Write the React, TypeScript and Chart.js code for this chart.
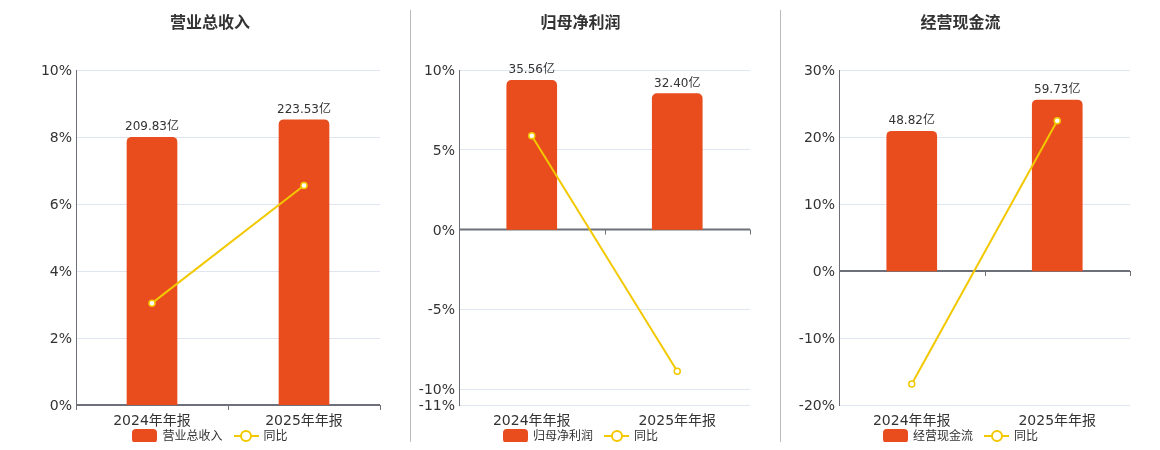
import React, { useEffect, useRef } from 'react';
import { Chart, registerables } from 'chart.js';

Chart.register(...registerables);

const FONT = '"DejaVu Sans", "Noto Sans CJK SC", sans-serif';
const BAR_COLOR = '#e94c1d';
const LINE_COLOR = '#f2c800';

// datos
const categories = ['2024年年报', '2025年年报'];
const revenueValues = [209.83, 223.53];
const revenueYoy = [3.04, 6.55];
const profitValues = [35.56, 32.4];
const profitYoy = [5.88, -8.88];
const cashValues = [48.82, 59.73];
const cashYoy = [-16.86, 22.41];
const revenueTicks = [0, 2, 4, 6, 8, 10];
const profitTicks = [-11, -10, -5, 0, 5, 10];
const cashTicks = [-20, -10, 0, 10, 20, 30];

interface PanelProps {
  left: number;
  width: number;
  title: string;
  bars: number[];
  yoy: number[];
  ticks: number[];
  barMin: number;
  barMax: number;
  axisWidth: number;
  padRight: number;
  separator?: boolean;
}

// eje en cero con marcas entre categorias
const zeroAxis = {
  id: 'zeroAxis',
  beforeDatasetsDraw(chart: any) {
    const { ctx, chartArea, scales } = chart;
    const y0 = scales.y.getPixelForValue(0);
    const n = chart.data.labels.length;
    ctx.save();
    ctx.strokeStyle = '#6e7079';
    ctx.lineWidth = 2;
    ctx.beginPath();
    ctx.moveTo(chartArea.left, y0);
    ctx.lineTo(chartArea.right, y0);
    ctx.stroke();
    ctx.lineWidth = 1;
    for (let i = 0; i <= n; i++) {
      const x = Math.round(chartArea.left + ((chartArea.right - chartArea.left) * i) / n) + 0.5;
      ctx.beginPath();
      ctx.moveTo(x, y0);
      ctx.lineTo(x, y0 + 5);
      ctx.stroke();
    }
    ctx.restore();
  },
};

// etiquetas encima de las barras
const barLabels = {
  id: 'barLabels',
  afterDatasetsDraw(chart: any) {
    const { ctx } = chart;
    const meta = chart.getDatasetMeta(0);
    const values = chart.data.datasets[0].data;
    ctx.save();
    ctx.font = `12px ${FONT}`;
    ctx.fillStyle = '#333';
    ctx.textAlign = 'center';
    ctx.textBaseline = 'bottom';
    meta.data.forEach((el: any, i: number) => {
      ctx.fillText(`${values[i].toFixed(2)}亿`, el.x, el.y - 4);
    });
    ctx.restore();
  },
};

const Panel: React.FC<PanelProps> = ({
  left, width, title, bars, yoy, ticks, barMin, barMax, axisWidth, padRight, separator,
}) => {
  const chartRef = useRef<HTMLCanvasElement>(null);
  const chartInstance = useRef<Chart | null>(null);

  useEffect(() => {
    if (!chartRef.current) return;
    if (chartInstance.current) chartInstance.current.destroy();

    chartInstance.current = new Chart(chartRef.current, {
      type: 'bar',
      data: {
        labels: categories,
        datasets: [
          {
            type: 'bar',
            label: title,
            data: bars,
            yAxisID: 'y2',
            backgroundColor: BAR_COLOR,
            barThickness: 50,
            borderRadius: { topLeft: 5, topRight: 5, bottomLeft: 0, bottomRight: 0 },
            borderSkipped: false,
            order: 1,
          },
          {
            type: 'line',
            label: '同比',
            data: yoy,
            yAxisID: 'y',
            borderColor: LINE_COLOR,
            borderWidth: 2,
            pointRadius: 3,
            pointBorderWidth: 1.5,
            pointBackgroundColor: '#ffffff',
            pointBorderColor: LINE_COLOR,
            tension: 0,
            order: 0,
          } as any,
        ],
      },
      options: {
        responsive: false,
        animation: false,
        layout: { autoPadding: false, padding: { top: 70, bottom: 15, left: 0, right: padRight } },
        plugins: {
          legend: { display: false },
          title: { display: false },
          tooltip: { enabled: false },
        },
        scales: {
          x: {
            grid: { display: false, drawTicks: false },
            border: { display: false },
            ticks: { color: '#333', font: { family: FONT, size: 14 }, padding: 8 },
            afterFit: (s: any) => { s.height = 30; },
          },
          y: {
            min: ticks[0],
            max: ticks[ticks.length - 1],
            afterBuildTicks: (s: any) => { s.ticks = ticks.map((v) => ({ value: v })); },
            afterFit: (s: any) => { s.width = axisWidth; },
            grid: {
              drawTicks: false,
              color: (c: any) => (c.tick && c.tick.value === 0 ? 'rgba(0,0,0,0)' : '#e0e6f1'),
            },
            border: { display: true, color: '#6e7079', width: 1 },
            ticks: {
              autoSkip: false,
              color: '#333',
              padding: 4,
              labelOffset: 1.5,
              font: { family: FONT, size: 14 },
              callback: (v: any) => `${v}%`,
            },
          },
          y2: {
            display: false,
            min: barMin,
            max: barMax,
          },
        },
      } as any,
      plugins: [zeroAxis, barLabels],
    });

    return () => {
      if (chartInstance.current) chartInstance.current.destroy();
    };
  }, []);

  return (
    <div style={{ position: 'absolute', left, top: 0, width, height: 450 }}>
      {separator && (
        <div style={{ position: 'absolute', left: 0, top: 10, width: 1, height: 433, background: '#bbbbbb' }} />
      )}
      <canvas ref={chartRef} width={width} height={450} style={{ position: 'absolute', left: 0, top: 0 }}></canvas>
      <div
        style={{
          position: 'absolute', top: 13, left: 0, width, textAlign: 'center',
          fontFamily: FONT, fontSize: 16, fontWeight: 'bold', lineHeight: '20px', color: '#333',
        }}
      >
        {title}
      </div>
      <div
        style={{
          position: 'absolute', top: 429, left: 0, width, height: 14, display: 'flex',
          justifyContent: 'center', alignItems: 'center', fontFamily: FONT, fontSize: 12, color: '#333',
        }}
      >
        <div style={{ width: 25, height: 14, borderRadius: 4, background: BAR_COLOR }} />
        <span style={{ marginLeft: 5, lineHeight: '14px' }}>{title}</span>
        <div style={{ position: 'relative', width: 25, height: 14, marginLeft: 11 }}>
          <div style={{ position: 'absolute', left: 0, top: 6, width: 25, height: 2, background: LINE_COLOR }} />
          <div
            style={{
              position: 'absolute', left: 6.5, top: 1, width: 8, height: 8, borderRadius: '50%',
              border: `2px solid ${LINE_COLOR}`, background: '#fff',
            }}
          />
        </div>
        <span style={{ marginLeft: 5, lineHeight: '14px' }}>同比</span>
      </div>
    </div>
  );
};

const App: React.FC = () => {
  return (
    <div style={{ position: 'relative', width: 1160, height: 450, margin: -8, background: '#fff', overflow: 'hidden' }}>
      <Panel left={30} width={360} title="营业总收入" bars={revenueValues} yoy={revenueYoy}
        ticks={revenueTicks} barMin={0} barMax={262.5} axisWidth={46} padRight={10} />
      <Panel left={410} width={341} title="归母净利润" bars={profitValues} yoy={profitYoy}
        ticks={profitTicks} barMin={-41.8} barMax={38} axisWidth={49} padRight={1} separator />
      <Panel left={780} width={361} title="经营现金流" bars={cashValues} yoy={cashYoy}
        ticks={cashTicks} barMin={-46.8} barMax={70.2} axisWidth={59} padRight={11} separator />
    </div>
  );
};

export default App;
